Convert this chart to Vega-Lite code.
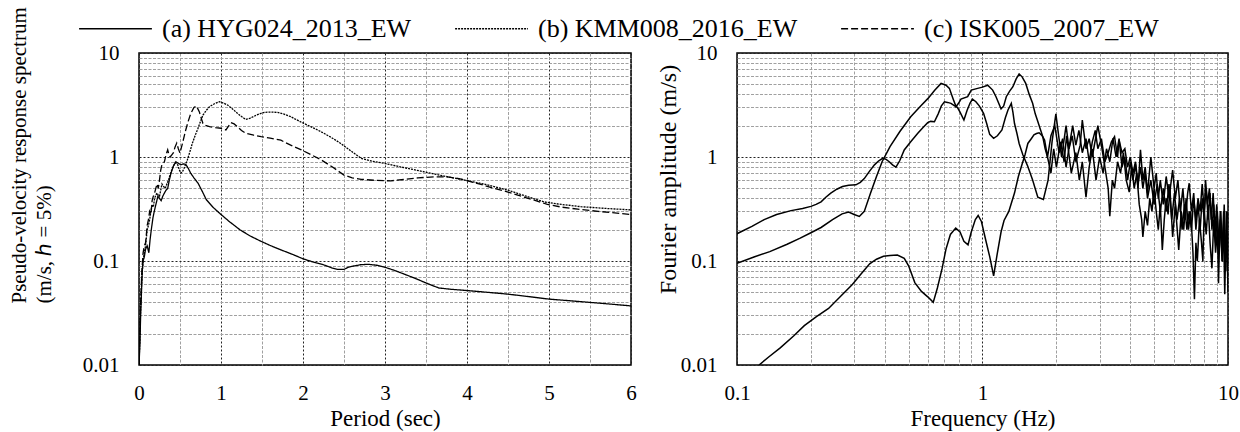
{
  "$schema": "https://vega.github.io/schema/vega-lite/v6.json",
  "background": "white",
  "autosize": {"type": "pad"},
  "padding": {"left": 7, "top": -9, "right": 5, "bottom": 10},
  "spacing": 106,
  "bounds": "flush",
  "config": {
    "font": "Liberation Serif",
    "view": {"stroke": "black", "strokeWidth": 1.5},
    "axis": {
      "domain": false,
      "ticks": false,
      "labelFont": "Liberation Serif",
      "labelFontSize": 21,
      "labelColor": "black",
      "labelOverlap": false,
      "labelFlush": false,
      "titleFont": "Liberation Serif",
      "titleFontSize": 24,
      "titleFontWeight": "normal",
      "titleColor": "black"
    },
    "legend": {
      "labelFont": "Liberation Serif",
      "labelFontSize": 26,
      "labelColor": "black",
      "padding": 0
    }
  },
  "datasets": {
    "psv": [
      {"s": "(a) HYG024_2013_EW", "T": 0, "v": 0.01}, {"s": "(a) HYG024_2013_EW", "T": 0.01, "v": 0.015}, {"s": "(a) HYG024_2013_EW", "T": 0.02, "v": 0.03}, {"s": "(a) HYG024_2013_EW", "T": 0.03, "v": 0.05}, {"s": "(a) HYG024_2013_EW", "T": 0.04, "v": 0.08}, {"s": "(a) HYG024_2013_EW", "T": 0.05, "v": 0.1}, {"s": "(a) HYG024_2013_EW", "T": 0.065, "v": 0.11}, {"s": "(a) HYG024_2013_EW", "T": 0.08, "v": 0.13}, {"s": "(a) HYG024_2013_EW", "T": 0.1, "v": 0.14}, {"s": "(a) HYG024_2013_EW", "T": 0.12, "v": 0.12}, {"s": "(a) HYG024_2013_EW", "T": 0.135, "v": 0.16}, {"s": "(a) HYG024_2013_EW", "T": 0.15, "v": 0.2}, {"s": "(a) HYG024_2013_EW", "T": 0.17, "v": 0.26}, {"s": "(a) HYG024_2013_EW", "T": 0.19, "v": 0.31}, {"s": "(a) HYG024_2013_EW", "T": 0.21, "v": 0.36}, {"s": "(a) HYG024_2013_EW", "T": 0.23, "v": 0.42}, {"s": "(a) HYG024_2013_EW", "T": 0.25, "v": 0.4}, {"s": "(a) HYG024_2013_EW", "T": 0.27, "v": 0.38}, {"s": "(a) HYG024_2013_EW", "T": 0.29, "v": 0.42}, {"s": "(a) HYG024_2013_EW", "T": 0.31, "v": 0.45}, {"s": "(a) HYG024_2013_EW", "T": 0.33, "v": 0.48}, {"s": "(a) HYG024_2013_EW", "T": 0.35, "v": 0.5}, {"s": "(a) HYG024_2013_EW", "T": 0.37, "v": 0.6}, {"s": "(a) HYG024_2013_EW", "T": 0.39, "v": 0.7}, {"s": "(a) HYG024_2013_EW", "T": 0.42, "v": 0.82}, {"s": "(a) HYG024_2013_EW", "T": 0.45, "v": 0.9}, {"s": "(a) HYG024_2013_EW", "T": 0.48, "v": 0.87}, {"s": "(a) HYG024_2013_EW", "T": 0.51, "v": 0.84}, {"s": "(a) HYG024_2013_EW", "T": 0.54, "v": 0.86}, {"s": "(a) HYG024_2013_EW", "T": 0.57, "v": 0.85}, {"s": "(a) HYG024_2013_EW", "T": 0.6, "v": 0.78}, {"s": "(a) HYG024_2013_EW", "T": 0.63, "v": 0.7}, {"s": "(a) HYG024_2013_EW", "T": 0.67, "v": 0.63}, {"s": "(a) HYG024_2013_EW", "T": 0.72, "v": 0.56}, {"s": "(a) HYG024_2013_EW", "T": 0.77, "v": 0.47}, {"s": "(a) HYG024_2013_EW", "T": 0.82, "v": 0.39}, {"s": "(a) HYG024_2013_EW", "T": 0.9, "v": 0.33}, {"s": "(a) HYG024_2013_EW", "T": 1.0, "v": 0.28}, {"s": "(a) HYG024_2013_EW", "T": 1.1, "v": 0.24}, {"s": "(a) HYG024_2013_EW", "T": 1.23, "v": 0.2}, {"s": "(a) HYG024_2013_EW", "T": 1.35, "v": 0.175}, {"s": "(a) HYG024_2013_EW", "T": 1.47, "v": 0.157}, {"s": "(a) HYG024_2013_EW", "T": 1.6, "v": 0.141}, {"s": "(a) HYG024_2013_EW", "T": 1.73, "v": 0.128}, {"s": "(a) HYG024_2013_EW", "T": 1.87, "v": 0.116}, {"s": "(a) HYG024_2013_EW", "T": 2.0, "v": 0.105}, {"s": "(a) HYG024_2013_EW", "T": 2.12, "v": 0.098}, {"s": "(a) HYG024_2013_EW", "T": 2.25, "v": 0.092}, {"s": "(a) HYG024_2013_EW", "T": 2.35, "v": 0.086}, {"s": "(a) HYG024_2013_EW", "T": 2.42, "v": 0.083}, {"s": "(a) HYG024_2013_EW", "T": 2.5, "v": 0.083}, {"s": "(a) HYG024_2013_EW", "T": 2.55, "v": 0.087}, {"s": "(a) HYG024_2013_EW", "T": 2.6, "v": 0.089}, {"s": "(a) HYG024_2013_EW", "T": 2.7, "v": 0.092}, {"s": "(a) HYG024_2013_EW", "T": 2.79, "v": 0.093}, {"s": "(a) HYG024_2013_EW", "T": 2.9, "v": 0.091}, {"s": "(a) HYG024_2013_EW", "T": 3.0, "v": 0.087}, {"s": "(a) HYG024_2013_EW", "T": 3.12, "v": 0.081}, {"s": "(a) HYG024_2013_EW", "T": 3.25, "v": 0.074}, {"s": "(a) HYG024_2013_EW", "T": 3.37, "v": 0.068}, {"s": "(a) HYG024_2013_EW", "T": 3.49, "v": 0.062}, {"s": "(a) HYG024_2013_EW", "T": 3.58, "v": 0.058}, {"s": "(a) HYG024_2013_EW", "T": 3.66, "v": 0.055}, {"s": "(a) HYG024_2013_EW", "T": 3.8, "v": 0.0535}, {"s": "(a) HYG024_2013_EW", "T": 4.0, "v": 0.052}, {"s": "(a) HYG024_2013_EW", "T": 4.25, "v": 0.05}, {"s": "(a) HYG024_2013_EW", "T": 4.5, "v": 0.048}, {"s": "(a) HYG024_2013_EW", "T": 4.75, "v": 0.0455}, {"s": "(a) HYG024_2013_EW", "T": 5.0, "v": 0.043}, {"s": "(a) HYG024_2013_EW", "T": 5.25, "v": 0.0415}, {"s": "(a) HYG024_2013_EW", "T": 5.5, "v": 0.04}, {"s": "(a) HYG024_2013_EW", "T": 5.75, "v": 0.0385}, {"s": "(a) HYG024_2013_EW", "T": 6.0, "v": 0.037},
      {"s": "(b) KMM008_2016_EW", "T": 0, "v": 0.01}, {"s": "(b) KMM008_2016_EW", "T": 0.01, "v": 0.018}, {"s": "(b) KMM008_2016_EW", "T": 0.02, "v": 0.035}, {"s": "(b) KMM008_2016_EW", "T": 0.035, "v": 0.07}, {"s": "(b) KMM008_2016_EW", "T": 0.05, "v": 0.1}, {"s": "(b) KMM008_2016_EW", "T": 0.065, "v": 0.12}, {"s": "(b) KMM008_2016_EW", "T": 0.08, "v": 0.14}, {"s": "(b) KMM008_2016_EW", "T": 0.1, "v": 0.2}, {"s": "(b) KMM008_2016_EW", "T": 0.115, "v": 0.22}, {"s": "(b) KMM008_2016_EW", "T": 0.13, "v": 0.25}, {"s": "(b) KMM008_2016_EW", "T": 0.145, "v": 0.3}, {"s": "(b) KMM008_2016_EW", "T": 0.16, "v": 0.35}, {"s": "(b) KMM008_2016_EW", "T": 0.175, "v": 0.33}, {"s": "(b) KMM008_2016_EW", "T": 0.19, "v": 0.4}, {"s": "(b) KMM008_2016_EW", "T": 0.205, "v": 0.43}, {"s": "(b) KMM008_2016_EW", "T": 0.22, "v": 0.45}, {"s": "(b) KMM008_2016_EW", "T": 0.235, "v": 0.43}, {"s": "(b) KMM008_2016_EW", "T": 0.25, "v": 0.42}, {"s": "(b) KMM008_2016_EW", "T": 0.265, "v": 0.48}, {"s": "(b) KMM008_2016_EW", "T": 0.28, "v": 0.55}, {"s": "(b) KMM008_2016_EW", "T": 0.3, "v": 0.52}, {"s": "(b) KMM008_2016_EW", "T": 0.32, "v": 0.5}, {"s": "(b) KMM008_2016_EW", "T": 0.34, "v": 0.55}, {"s": "(b) KMM008_2016_EW", "T": 0.36, "v": 0.6}, {"s": "(b) KMM008_2016_EW", "T": 0.38, "v": 0.68}, {"s": "(b) KMM008_2016_EW", "T": 0.4, "v": 0.75}, {"s": "(b) KMM008_2016_EW", "T": 0.42, "v": 0.82}, {"s": "(b) KMM008_2016_EW", "T": 0.44, "v": 0.88}, {"s": "(b) KMM008_2016_EW", "T": 0.47, "v": 0.85}, {"s": "(b) KMM008_2016_EW", "T": 0.49, "v": 0.76}, {"s": "(b) KMM008_2016_EW", "T": 0.51, "v": 0.7}, {"s": "(b) KMM008_2016_EW", "T": 0.53, "v": 0.72}, {"s": "(b) KMM008_2016_EW", "T": 0.55, "v": 0.78}, {"s": "(b) KMM008_2016_EW", "T": 0.59, "v": 0.94}, {"s": "(b) KMM008_2016_EW", "T": 0.62, "v": 1.12}, {"s": "(b) KMM008_2016_EW", "T": 0.65, "v": 1.35}, {"s": "(b) KMM008_2016_EW", "T": 0.69, "v": 1.65}, {"s": "(b) KMM008_2016_EW", "T": 0.72, "v": 1.89}, {"s": "(b) KMM008_2016_EW", "T": 0.75, "v": 2.2}, {"s": "(b) KMM008_2016_EW", "T": 0.78, "v": 2.53}, {"s": "(b) KMM008_2016_EW", "T": 0.82, "v": 2.8}, {"s": "(b) KMM008_2016_EW", "T": 0.86, "v": 3.05}, {"s": "(b) KMM008_2016_EW", "T": 0.92, "v": 3.25}, {"s": "(b) KMM008_2016_EW", "T": 0.98, "v": 3.4}, {"s": "(b) KMM008_2016_EW", "T": 1.03, "v": 3.3}, {"s": "(b) KMM008_2016_EW", "T": 1.08, "v": 3.16}, {"s": "(b) KMM008_2016_EW", "T": 1.14, "v": 2.9}, {"s": "(b) KMM008_2016_EW", "T": 1.2, "v": 2.63}, {"s": "(b) KMM008_2016_EW", "T": 1.25, "v": 2.45}, {"s": "(b) KMM008_2016_EW", "T": 1.3, "v": 2.3}, {"s": "(b) KMM008_2016_EW", "T": 1.35, "v": 2.35}, {"s": "(b) KMM008_2016_EW", "T": 1.41, "v": 2.48}, {"s": "(b) KMM008_2016_EW", "T": 1.47, "v": 2.6}, {"s": "(b) KMM008_2016_EW", "T": 1.53, "v": 2.69}, {"s": "(b) KMM008_2016_EW", "T": 1.6, "v": 2.7}, {"s": "(b) KMM008_2016_EW", "T": 1.69, "v": 2.69}, {"s": "(b) KMM008_2016_EW", "T": 1.77, "v": 2.58}, {"s": "(b) KMM008_2016_EW", "T": 1.85, "v": 2.44}, {"s": "(b) KMM008_2016_EW", "T": 1.98, "v": 2.16}, {"s": "(b) KMM008_2016_EW", "T": 2.1, "v": 1.95}, {"s": "(b) KMM008_2016_EW", "T": 2.22, "v": 1.75}, {"s": "(b) KMM008_2016_EW", "T": 2.34, "v": 1.55}, {"s": "(b) KMM008_2016_EW", "T": 2.46, "v": 1.35}, {"s": "(b) KMM008_2016_EW", "T": 2.58, "v": 1.15}, {"s": "(b) KMM008_2016_EW", "T": 2.71, "v": 0.97}, {"s": "(b) KMM008_2016_EW", "T": 2.85, "v": 0.91}, {"s": "(b) KMM008_2016_EW", "T": 2.99, "v": 0.87}, {"s": "(b) KMM008_2016_EW", "T": 3.2, "v": 0.8}, {"s": "(b) KMM008_2016_EW", "T": 3.48, "v": 0.72}, {"s": "(b) KMM008_2016_EW", "T": 3.7, "v": 0.66}, {"s": "(b) KMM008_2016_EW", "T": 3.97, "v": 0.6}, {"s": "(b) KMM008_2016_EW", "T": 4.25, "v": 0.54}, {"s": "(b) KMM008_2016_EW", "T": 4.5, "v": 0.48}, {"s": "(b) KMM008_2016_EW", "T": 4.72, "v": 0.42}, {"s": "(b) KMM008_2016_EW", "T": 4.94, "v": 0.37}, {"s": "(b) KMM008_2016_EW", "T": 5.15, "v": 0.35}, {"s": "(b) KMM008_2016_EW", "T": 5.39, "v": 0.333}, {"s": "(b) KMM008_2016_EW", "T": 5.7, "v": 0.32}, {"s": "(b) KMM008_2016_EW", "T": 6.0, "v": 0.31},
      {"s": "(c) ISK005_2007_EW", "T": 0, "v": 0.01}, {"s": "(c) ISK005_2007_EW", "T": 0.01, "v": 0.02}, {"s": "(c) ISK005_2007_EW", "T": 0.02, "v": 0.04}, {"s": "(c) ISK005_2007_EW", "T": 0.035, "v": 0.08}, {"s": "(c) ISK005_2007_EW", "T": 0.05, "v": 0.12}, {"s": "(c) ISK005_2007_EW", "T": 0.065, "v": 0.14}, {"s": "(c) ISK005_2007_EW", "T": 0.08, "v": 0.15}, {"s": "(c) ISK005_2007_EW", "T": 0.1, "v": 0.22}, {"s": "(c) ISK005_2007_EW", "T": 0.115, "v": 0.25}, {"s": "(c) ISK005_2007_EW", "T": 0.13, "v": 0.3}, {"s": "(c) ISK005_2007_EW", "T": 0.145, "v": 0.28}, {"s": "(c) ISK005_2007_EW", "T": 0.16, "v": 0.38}, {"s": "(c) ISK005_2007_EW", "T": 0.175, "v": 0.42}, {"s": "(c) ISK005_2007_EW", "T": 0.19, "v": 0.45}, {"s": "(c) ISK005_2007_EW", "T": 0.205, "v": 0.5}, {"s": "(c) ISK005_2007_EW", "T": 0.22, "v": 0.55}, {"s": "(c) ISK005_2007_EW", "T": 0.235, "v": 0.5}, {"s": "(c) ISK005_2007_EW", "T": 0.25, "v": 0.6}, {"s": "(c) ISK005_2007_EW", "T": 0.265, "v": 0.75}, {"s": "(c) ISK005_2007_EW", "T": 0.28, "v": 0.85}, {"s": "(c) ISK005_2007_EW", "T": 0.295, "v": 0.87}, {"s": "(c) ISK005_2007_EW", "T": 0.31, "v": 0.9}, {"s": "(c) ISK005_2007_EW", "T": 0.33, "v": 1.05}, {"s": "(c) ISK005_2007_EW", "T": 0.35, "v": 1.17}, {"s": "(c) ISK005_2007_EW", "T": 0.365, "v": 1.05}, {"s": "(c) ISK005_2007_EW", "T": 0.38, "v": 1.0}, {"s": "(c) ISK005_2007_EW", "T": 0.4, "v": 1.05}, {"s": "(c) ISK005_2007_EW", "T": 0.42, "v": 1.1}, {"s": "(c) ISK005_2007_EW", "T": 0.44, "v": 1.25}, {"s": "(c) ISK005_2007_EW", "T": 0.46, "v": 1.36}, {"s": "(c) ISK005_2007_EW", "T": 0.48, "v": 1.2}, {"s": "(c) ISK005_2007_EW", "T": 0.5, "v": 1.09}, {"s": "(c) ISK005_2007_EW", "T": 0.53, "v": 1.35}, {"s": "(c) ISK005_2007_EW", "T": 0.57, "v": 1.82}, {"s": "(c) ISK005_2007_EW", "T": 0.6, "v": 2.2}, {"s": "(c) ISK005_2007_EW", "T": 0.63, "v": 2.6}, {"s": "(c) ISK005_2007_EW", "T": 0.67, "v": 3.0}, {"s": "(c) ISK005_2007_EW", "T": 0.7, "v": 3.1}, {"s": "(c) ISK005_2007_EW", "T": 0.735, "v": 2.73}, {"s": "(c) ISK005_2007_EW", "T": 0.76, "v": 2.35}, {"s": "(c) ISK005_2007_EW", "T": 0.78, "v": 2.1}, {"s": "(c) ISK005_2007_EW", "T": 0.82, "v": 2.0}, {"s": "(c) ISK005_2007_EW", "T": 0.86, "v": 1.96}, {"s": "(c) ISK005_2007_EW", "T": 0.93, "v": 1.92}, {"s": "(c) ISK005_2007_EW", "T": 1.0, "v": 1.89}, {"s": "(c) ISK005_2007_EW", "T": 1.06, "v": 1.82}, {"s": "(c) ISK005_2007_EW", "T": 1.12, "v": 2.14}, {"s": "(c) ISK005_2007_EW", "T": 1.16, "v": 2.08}, {"s": "(c) ISK005_2007_EW", "T": 1.2, "v": 1.96}, {"s": "(c) ISK005_2007_EW", "T": 1.25, "v": 1.8}, {"s": "(c) ISK005_2007_EW", "T": 1.3, "v": 1.69}, {"s": "(c) ISK005_2007_EW", "T": 1.4, "v": 1.62}, {"s": "(c) ISK005_2007_EW", "T": 1.49, "v": 1.57}, {"s": "(c) ISK005_2007_EW", "T": 1.6, "v": 1.52}, {"s": "(c) ISK005_2007_EW", "T": 1.73, "v": 1.45}, {"s": "(c) ISK005_2007_EW", "T": 1.85, "v": 1.3}, {"s": "(c) ISK005_2007_EW", "T": 1.98, "v": 1.17}, {"s": "(c) ISK005_2007_EW", "T": 2.1, "v": 1.05}, {"s": "(c) ISK005_2007_EW", "T": 2.22, "v": 0.94}, {"s": "(c) ISK005_2007_EW", "T": 2.36, "v": 0.8}, {"s": "(c) ISK005_2007_EW", "T": 2.5, "v": 0.67}, {"s": "(c) ISK005_2007_EW", "T": 2.6, "v": 0.63}, {"s": "(c) ISK005_2007_EW", "T": 2.71, "v": 0.61}, {"s": "(c) ISK005_2007_EW", "T": 2.9, "v": 0.595}, {"s": "(c) ISK005_2007_EW", "T": 3.07, "v": 0.59}, {"s": "(c) ISK005_2007_EW", "T": 3.25, "v": 0.61}, {"s": "(c) ISK005_2007_EW", "T": 3.4, "v": 0.63}, {"s": "(c) ISK005_2007_EW", "T": 3.6, "v": 0.645}, {"s": "(c) ISK005_2007_EW", "T": 3.76, "v": 0.645}, {"s": "(c) ISK005_2007_EW", "T": 3.9, "v": 0.62}, {"s": "(c) ISK005_2007_EW", "T": 4.01, "v": 0.59}, {"s": "(c) ISK005_2007_EW", "T": 4.17, "v": 0.545}, {"s": "(c) ISK005_2007_EW", "T": 4.33, "v": 0.5}, {"s": "(c) ISK005_2007_EW", "T": 4.5, "v": 0.46}, {"s": "(c) ISK005_2007_EW", "T": 4.66, "v": 0.42}, {"s": "(c) ISK005_2007_EW", "T": 4.82, "v": 0.385}, {"s": "(c) ISK005_2007_EW", "T": 4.98, "v": 0.35}, {"s": "(c) ISK005_2007_EW", "T": 5.15, "v": 0.33}, {"s": "(c) ISK005_2007_EW", "T": 5.35, "v": 0.315}, {"s": "(c) ISK005_2007_EW", "T": 5.6, "v": 0.3}, {"s": "(c) ISK005_2007_EW", "T": 5.8, "v": 0.29}, {"s": "(c) ISK005_2007_EW", "T": 6.0, "v": 0.28}
    ],
    "fas": [
      {"s": "b", "f": 0.1, "a": 0.183}, {"s": "b", "f": 0.115, "a": 0.215}, {"s": "b", "f": 0.129, "a": 0.25}, {"s": "b", "f": 0.145, "a": 0.28}, {"s": "b", "f": 0.166, "a": 0.305}, {"s": "b", "f": 0.185, "a": 0.32}, {"s": "b", "f": 0.2, "a": 0.335}, {"s": "b", "f": 0.21, "a": 0.35}, {"s": "b", "f": 0.22, "a": 0.37}, {"s": "b", "f": 0.23, "a": 0.41}, {"s": "b", "f": 0.241, "a": 0.45}, {"s": "b", "f": 0.255, "a": 0.49}, {"s": "b", "f": 0.269, "a": 0.52}, {"s": "b", "f": 0.285, "a": 0.535}, {"s": "b", "f": 0.305, "a": 0.54}, {"s": "b", "f": 0.318, "a": 0.57}, {"s": "b", "f": 0.33, "a": 0.62}, {"s": "b", "f": 0.345, "a": 0.72}, {"s": "b", "f": 0.363, "a": 0.84}, {"s": "b", "f": 0.378, "a": 0.92}, {"s": "b", "f": 0.392, "a": 0.97}, {"s": "b", "f": 0.405, "a": 0.95}, {"s": "b", "f": 0.417, "a": 0.9}, {"s": "b", "f": 0.43, "a": 0.84}, {"s": "b", "f": 0.444, "a": 0.8}, {"s": "b", "f": 0.46, "a": 0.92}, {"s": "b", "f": 0.48, "a": 1.17}, {"s": "b", "f": 0.51, "a": 1.4}, {"s": "b", "f": 0.545, "a": 1.69}, {"s": "b", "f": 0.57, "a": 1.9}, {"s": "b", "f": 0.598, "a": 2.14}, {"s": "b", "f": 0.615, "a": 2.2}, {"s": "b", "f": 0.637, "a": 2.18}, {"s": "b", "f": 0.66, "a": 2.6}, {"s": "b", "f": 0.68, "a": 3.1}, {"s": "b", "f": 0.7, "a": 3.4}, {"s": "b", "f": 0.72, "a": 3.35}, {"s": "b", "f": 0.744, "a": 3.28}, {"s": "b", "f": 0.77, "a": 3.1}, {"s": "b", "f": 0.79, "a": 3.0}, {"s": "b", "f": 0.81, "a": 2.7}, {"s": "b", "f": 0.84, "a": 2.27}, {"s": "b", "f": 0.865, "a": 2.8}, {"s": "b", "f": 0.89, "a": 3.3}, {"s": "b", "f": 0.91, "a": 3.6}, {"s": "b", "f": 0.94, "a": 3.4}, {"s": "b", "f": 0.97, "a": 3.1}, {"s": "b", "f": 1.01, "a": 2.63}, {"s": "b", "f": 1.04, "a": 2.1}, {"s": "b", "f": 1.07, "a": 1.65}, {"s": "b", "f": 1.11, "a": 1.51}, {"s": "b", "f": 1.15, "a": 1.6}, {"s": "b", "f": 1.2, "a": 1.82}, {"s": "b", "f": 1.24, "a": 2.4}, {"s": "b", "f": 1.27, "a": 2.83}, {"s": "b", "f": 1.31, "a": 3.28}, {"s": "b", "f": 1.33, "a": 2.7}, {"s": "b", "f": 1.35, "a": 2.1}, {"s": "b", "f": 1.38, "a": 1.7}, {"s": "b", "f": 1.41, "a": 1.35}, {"s": "b", "f": 1.46, "a": 1.05}, {"s": "b", "f": 1.53, "a": 0.81}, {"s": "b", "f": 1.6, "a": 0.6}, {"s": "b", "f": 1.68, "a": 0.41}, {"s": "b", "f": 1.77, "a": 0.39}, {"s": "b", "f": 1.85, "a": 0.6}, {"s": "b", "f": 1.92, "a": 1.4}, {"s": "b", "f": 1.99, "a": 2.6}, {"s": "b", "f": 2.05, "a": 1.5}, {"s": "b", "f": 2.1, "a": 1.0}, {"s": "b", "f": 2.19, "a": 2.0}, {"s": "b", "f": 2.25, "a": 1.2}, {"s": "b", "f": 2.32, "a": 1.6}, {"s": "b", "f": 2.4, "a": 0.9}, {"s": "b", "f": 2.5, "a": 1.3}, {"s": "b", "f": 2.55, "a": 2.27}, {"s": "b", "f": 2.64, "a": 1.2}, {"s": "b", "f": 2.72, "a": 1.5}, {"s": "b", "f": 2.8, "a": 1.0}, {"s": "b", "f": 2.95, "a": 2.0}, {"s": "b", "f": 3.05, "a": 1.3}, {"s": "b", "f": 3.15, "a": 0.81}, {"s": "b", "f": 3.25, "a": 0.5}, {"s": "b", "f": 3.3, "a": 0.27}, {"s": "b", "f": 3.38, "a": 0.6}, {"s": "b", "f": 3.45, "a": 0.5}, {"s": "b", "f": 3.55, "a": 0.9}, {"s": "b", "f": 3.65, "a": 0.7}, {"s": "b", "f": 3.75, "a": 1.1}, {"s": "b", "f": 3.85, "a": 0.6}, {"s": "b", "f": 3.96, "a": 0.46}, {"s": "b", "f": 4.05, "a": 0.8}, {"s": "b", "f": 4.15, "a": 0.5}, {"s": "b", "f": 4.25, "a": 0.7}, {"s": "b", "f": 4.35, "a": 0.35}, {"s": "b", "f": 4.45, "a": 0.25}, {"s": "b", "f": 4.5, "a": 0.17}, {"s": "b", "f": 4.6, "a": 0.3}, {"s": "b", "f": 4.7, "a": 0.22}, {"s": "b", "f": 4.8, "a": 0.4}, {"s": "b", "f": 4.9, "a": 0.3}, {"s": "b", "f": 5.0, "a": 0.5}, {"s": "b", "f": 5.1, "a": 0.3}, {"s": "b", "f": 5.2, "a": 0.2}, {"s": "b", "f": 5.3, "a": 0.35}, {"s": "b", "f": 5.4, "a": 0.128}, {"s": "b", "f": 5.5, "a": 0.25}, {"s": "b", "f": 5.6, "a": 0.4}, {"s": "b", "f": 5.7, "a": 0.28}, {"s": "b", "f": 5.8, "a": 0.5}, {"s": "b", "f": 5.95, "a": 0.17}, {"s": "b", "f": 6.1, "a": 0.35}, {"s": "b", "f": 6.3, "a": 0.128}, {"s": "b", "f": 6.45, "a": 0.3}, {"s": "b", "f": 6.6, "a": 0.2}, {"s": "b", "f": 6.75, "a": 0.4}, {"s": "b", "f": 6.9, "a": 0.2}, {"s": "b", "f": 7.05, "a": 0.3}, {"s": "b", "f": 7.2, "a": 0.12}, {"s": "b", "f": 7.3, "a": 0.043}, {"s": "b", "f": 7.4, "a": 0.15}, {"s": "b", "f": 7.5, "a": 0.1}, {"s": "b", "f": 7.65, "a": 0.25}, {"s": "b", "f": 7.8, "a": 0.15}, {"s": "b", "f": 7.9, "a": 0.1}, {"s": "b", "f": 8.0, "a": 0.3}, {"s": "b", "f": 8.15, "a": 0.18}, {"s": "b", "f": 8.3, "a": 0.35}, {"s": "b", "f": 8.45, "a": 0.15}, {"s": "b", "f": 8.6, "a": 0.085}, {"s": "b", "f": 8.75, "a": 0.25}, {"s": "b", "f": 8.9, "a": 0.12}, {"s": "b", "f": 9.05, "a": 0.2}, {"s": "b", "f": 9.15, "a": 0.061}, {"s": "b", "f": 9.3, "a": 0.3}, {"s": "b", "f": 9.45, "a": 0.1}, {"s": "b", "f": 9.6, "a": 0.2}, {"s": "b", "f": 9.7, "a": 0.048}, {"s": "b", "f": 9.85, "a": 0.3}, {"s": "b", "f": 10, "a": 0.1},
      {"s": "c", "f": 0.1, "a": 0.095}, {"s": "c", "f": 0.118, "a": 0.11}, {"s": "c", "f": 0.136, "a": 0.123}, {"s": "c", "f": 0.16, "a": 0.145}, {"s": "c", "f": 0.18, "a": 0.165}, {"s": "c", "f": 0.2, "a": 0.187}, {"s": "c", "f": 0.22, "a": 0.21}, {"s": "c", "f": 0.245, "a": 0.25}, {"s": "c", "f": 0.268, "a": 0.284}, {"s": "c", "f": 0.285, "a": 0.295}, {"s": "c", "f": 0.3, "a": 0.28}, {"s": "c", "f": 0.315, "a": 0.268}, {"s": "c", "f": 0.33, "a": 0.3}, {"s": "c", "f": 0.35, "a": 0.45}, {"s": "c", "f": 0.37, "a": 0.65}, {"s": "c", "f": 0.39, "a": 0.9}, {"s": "c", "f": 0.42, "a": 1.26}, {"s": "c", "f": 0.46, "a": 1.75}, {"s": "c", "f": 0.51, "a": 2.44}, {"s": "c", "f": 0.56, "a": 3.1}, {"s": "c", "f": 0.6, "a": 3.66}, {"s": "c", "f": 0.64, "a": 4.4}, {"s": "c", "f": 0.678, "a": 5.1}, {"s": "c", "f": 0.71, "a": 4.9}, {"s": "c", "f": 0.733, "a": 4.57}, {"s": "c", "f": 0.76, "a": 3.6}, {"s": "c", "f": 0.78, "a": 3.05}, {"s": "c", "f": 0.8, "a": 3.3}, {"s": "c", "f": 0.817, "a": 3.6}, {"s": "c", "f": 0.87, "a": 3.8}, {"s": "c", "f": 0.9, "a": 4.4}, {"s": "c", "f": 0.955, "a": 4.57}, {"s": "c", "f": 1.0, "a": 4.7}, {"s": "c", "f": 1.05, "a": 4.9}, {"s": "c", "f": 1.1, "a": 4.4}, {"s": "c", "f": 1.135, "a": 3.8}, {"s": "c", "f": 1.19, "a": 2.9}, {"s": "c", "f": 1.22, "a": 3.1}, {"s": "c", "f": 1.25, "a": 3.8}, {"s": "c", "f": 1.29, "a": 4.3}, {"s": "c", "f": 1.33, "a": 4.74}, {"s": "c", "f": 1.37, "a": 5.6}, {"s": "c", "f": 1.41, "a": 6.3}, {"s": "c", "f": 1.45, "a": 5.9}, {"s": "c", "f": 1.5, "a": 5.1}, {"s": "c", "f": 1.55, "a": 4.0}, {"s": "c", "f": 1.6, "a": 3.28}, {"s": "c", "f": 1.64, "a": 2.6}, {"s": "c", "f": 1.68, "a": 2.19}, {"s": "c", "f": 1.72, "a": 1.85}, {"s": "c", "f": 1.76, "a": 1.57}, {"s": "c", "f": 1.8, "a": 1.2}, {"s": "c", "f": 1.84, "a": 1.0}, {"s": "c", "f": 1.9, "a": 0.7}, {"s": "c", "f": 1.95, "a": 1.2}, {"s": "c", "f": 2.0, "a": 0.8}, {"s": "c", "f": 2.08, "a": 1.4}, {"s": "c", "f": 2.15, "a": 0.9}, {"s": "c", "f": 2.2, "a": 1.6}, {"s": "c", "f": 2.3, "a": 0.7}, {"s": "c", "f": 2.4, "a": 1.1}, {"s": "c", "f": 2.48, "a": 0.6}, {"s": "c", "f": 2.55, "a": 0.9}, {"s": "c", "f": 2.64, "a": 0.41}, {"s": "c", "f": 2.72, "a": 0.8}, {"s": "c", "f": 2.8, "a": 1.2}, {"s": "c", "f": 2.9, "a": 0.6}, {"s": "c", "f": 3.0, "a": 1.0}, {"s": "c", "f": 3.1, "a": 0.7}, {"s": "c", "f": 3.2, "a": 1.2}, {"s": "c", "f": 3.3, "a": 0.9}, {"s": "c", "f": 3.4, "a": 1.51}, {"s": "c", "f": 3.5, "a": 1.0}, {"s": "c", "f": 3.6, "a": 1.5}, {"s": "c", "f": 3.7, "a": 0.8}, {"s": "c", "f": 3.8, "a": 1.0}, {"s": "c", "f": 3.9, "a": 0.6}, {"s": "c", "f": 4.0, "a": 0.9}, {"s": "c", "f": 4.1, "a": 0.6}, {"s": "c", "f": 4.2, "a": 0.85}, {"s": "c", "f": 4.3, "a": 0.5}, {"s": "c", "f": 4.4, "a": 1.17}, {"s": "c", "f": 4.5, "a": 0.6}, {"s": "c", "f": 4.6, "a": 0.8}, {"s": "c", "f": 4.7, "a": 0.45}, {"s": "c", "f": 4.85, "a": 1.0}, {"s": "c", "f": 5.0, "a": 0.5}, {"s": "c", "f": 5.1, "a": 0.7}, {"s": "c", "f": 5.2, "a": 0.4}, {"s": "c", "f": 5.3, "a": 0.6}, {"s": "c", "f": 5.45, "a": 0.35}, {"s": "c", "f": 5.6, "a": 0.65}, {"s": "c", "f": 5.75, "a": 0.4}, {"s": "c", "f": 5.95, "a": 0.75}, {"s": "c", "f": 6.1, "a": 0.4}, {"s": "c", "f": 6.25, "a": 0.6}, {"s": "c", "f": 6.4, "a": 0.3}, {"s": "c", "f": 6.55, "a": 0.5}, {"s": "c", "f": 6.7, "a": 0.25}, {"s": "c", "f": 6.85, "a": 0.45}, {"s": "c", "f": 6.95, "a": 0.56}, {"s": "c", "f": 7.1, "a": 0.3}, {"s": "c", "f": 7.25, "a": 0.45}, {"s": "c", "f": 7.4, "a": 0.2}, {"s": "c", "f": 7.55, "a": 0.35}, {"s": "c", "f": 7.7, "a": 0.2}, {"s": "c", "f": 7.85, "a": 0.4}, {"s": "c", "f": 8.0, "a": 0.25}, {"s": "c", "f": 8.1, "a": 0.6}, {"s": "c", "f": 8.25, "a": 0.35}, {"s": "c", "f": 8.4, "a": 0.5}, {"s": "c", "f": 8.55, "a": 0.25}, {"s": "c", "f": 8.7, "a": 0.45}, {"s": "c", "f": 8.85, "a": 0.2}, {"s": "c", "f": 9.0, "a": 0.35}, {"s": "c", "f": 9.15, "a": 0.15}, {"s": "c", "f": 9.3, "a": 0.25}, {"s": "c", "f": 9.45, "a": 0.12}, {"s": "c", "f": 9.6, "a": 0.3}, {"s": "c", "f": 9.75, "a": 0.1}, {"s": "c", "f": 9.9, "a": 0.15}, {"s": "c", "f": 10, "a": 0.05},
      {"s": "a", "f": 0.123, "a": 0.01}, {"s": "a", "f": 0.135, "a": 0.012}, {"s": "a", "f": 0.15, "a": 0.0146}, {"s": "a", "f": 0.17, "a": 0.019}, {"s": "a", "f": 0.188, "a": 0.0239}, {"s": "a", "f": 0.21, "a": 0.029}, {"s": "a", "f": 0.236, "a": 0.035}, {"s": "a", "f": 0.265, "a": 0.046}, {"s": "a", "f": 0.295, "a": 0.0595}, {"s": "a", "f": 0.32, "a": 0.075}, {"s": "a", "f": 0.347, "a": 0.094}, {"s": "a", "f": 0.37, "a": 0.104}, {"s": "a", "f": 0.395, "a": 0.111}, {"s": "a", "f": 0.42, "a": 0.113}, {"s": "a", "f": 0.45, "a": 0.114}, {"s": "a", "f": 0.48, "a": 0.106}, {"s": "a", "f": 0.5, "a": 0.09}, {"s": "a", "f": 0.53, "a": 0.062}, {"s": "a", "f": 0.564, "a": 0.051}, {"s": "a", "f": 0.6, "a": 0.045}, {"s": "a", "f": 0.63, "a": 0.04}, {"s": "a", "f": 0.655, "a": 0.055}, {"s": "a", "f": 0.684, "a": 0.084}, {"s": "a", "f": 0.71, "a": 0.13}, {"s": "a", "f": 0.74, "a": 0.18}, {"s": "a", "f": 0.778, "a": 0.207}, {"s": "a", "f": 0.81, "a": 0.19}, {"s": "a", "f": 0.84, "a": 0.155}, {"s": "a", "f": 0.873, "a": 0.143}, {"s": "a", "f": 0.9, "a": 0.19}, {"s": "a", "f": 0.935, "a": 0.25}, {"s": "a", "f": 0.96, "a": 0.274}, {"s": "a", "f": 0.99, "a": 0.24}, {"s": "a", "f": 1.03, "a": 0.16}, {"s": "a", "f": 1.07, "a": 0.11}, {"s": "a", "f": 1.11, "a": 0.072}, {"s": "a", "f": 1.15, "a": 0.12}, {"s": "a", "f": 1.19, "a": 0.19}, {"s": "a", "f": 1.224, "a": 0.245}, {"s": "a", "f": 1.28, "a": 0.3}, {"s": "a", "f": 1.35, "a": 0.45}, {"s": "a", "f": 1.4, "a": 0.65}, {"s": "a", "f": 1.44, "a": 0.81}, {"s": "a", "f": 1.49, "a": 1.05}, {"s": "a", "f": 1.53, "a": 1.35}, {"s": "a", "f": 1.58, "a": 1.5}, {"s": "a", "f": 1.62, "a": 1.63}, {"s": "a", "f": 1.66, "a": 1.68}, {"s": "a", "f": 1.7, "a": 1.71}, {"s": "a", "f": 1.75, "a": 1.6}, {"s": "a", "f": 1.79, "a": 1.46}, {"s": "a", "f": 1.84, "a": 1.0}, {"s": "a", "f": 1.9, "a": 1.6}, {"s": "a", "f": 1.97, "a": 2.0}, {"s": "a", "f": 2.05, "a": 1.1}, {"s": "a", "f": 2.12, "a": 1.5}, {"s": "a", "f": 2.19, "a": 0.8}, {"s": "a", "f": 2.26, "a": 1.3}, {"s": "a", "f": 2.33, "a": 2.0}, {"s": "a", "f": 2.4, "a": 1.3}, {"s": "a", "f": 2.47, "a": 1.8}, {"s": "a", "f": 2.55, "a": 1.1}, {"s": "a", "f": 2.64, "a": 1.5}, {"s": "a", "f": 2.72, "a": 0.9}, {"s": "a", "f": 2.8, "a": 1.4}, {"s": "a", "f": 2.88, "a": 1.8}, {"s": "a", "f": 2.95, "a": 1.2}, {"s": "a", "f": 3.05, "a": 1.5}, {"s": "a", "f": 3.15, "a": 0.9}, {"s": "a", "f": 3.25, "a": 1.1}, {"s": "a", "f": 3.35, "a": 1.4}, {"s": "a", "f": 3.45, "a": 1.57}, {"s": "a", "f": 3.55, "a": 1.0}, {"s": "a", "f": 3.6, "a": 1.45}, {"s": "a", "f": 3.7, "a": 1.1}, {"s": "a", "f": 3.8, "a": 1.2}, {"s": "a", "f": 3.9, "a": 0.8}, {"s": "a", "f": 4.0, "a": 1.0}, {"s": "a", "f": 4.1, "a": 0.7}, {"s": "a", "f": 4.2, "a": 0.9}, {"s": "a", "f": 4.3, "a": 0.55}, {"s": "a", "f": 4.4, "a": 0.8}, {"s": "a", "f": 4.5, "a": 0.5}, {"s": "a", "f": 4.6, "a": 0.7}, {"s": "a", "f": 4.7, "a": 0.4}, {"s": "a", "f": 4.85, "a": 0.6}, {"s": "a", "f": 5.0, "a": 0.35}, {"s": "a", "f": 5.15, "a": 0.55}, {"s": "a", "f": 5.3, "a": 0.3}, {"s": "a", "f": 5.45, "a": 0.5}, {"s": "a", "f": 5.6, "a": 0.3}, {"s": "a", "f": 5.75, "a": 0.55}, {"s": "a", "f": 5.9, "a": 0.25}, {"s": "a", "f": 6.05, "a": 0.45}, {"s": "a", "f": 6.2, "a": 0.25}, {"s": "a", "f": 6.35, "a": 0.4}, {"s": "a", "f": 6.5, "a": 0.2}, {"s": "a", "f": 6.65, "a": 0.35}, {"s": "a", "f": 6.8, "a": 0.2}, {"s": "a", "f": 6.95, "a": 0.3}, {"s": "a", "f": 7.1, "a": 0.2}, {"s": "a", "f": 7.25, "a": 0.4}, {"s": "a", "f": 7.4, "a": 0.25}, {"s": "a", "f": 7.55, "a": 0.4}, {"s": "a", "f": 7.7, "a": 0.3}, {"s": "a", "f": 7.85, "a": 0.55}, {"s": "a", "f": 8.0, "a": 0.3}, {"s": "a", "f": 8.15, "a": 0.5}, {"s": "a", "f": 8.3, "a": 0.25}, {"s": "a", "f": 8.45, "a": 0.45}, {"s": "a", "f": 8.6, "a": 0.2}, {"s": "a", "f": 8.75, "a": 0.35}, {"s": "a", "f": 8.9, "a": 0.15}, {"s": "a", "f": 9.05, "a": 0.3}, {"s": "a", "f": 9.2, "a": 0.12}, {"s": "a", "f": 9.35, "a": 0.3}, {"s": "a", "f": 9.5, "a": 0.1}, {"s": "a", "f": 9.65, "a": 0.35}, {"s": "a", "f": 9.8, "a": 0.08}, {"s": "a", "f": 9.9, "a": 0.25}, {"s": "a", "f": 10, "a": 0.3}
    ]
  },
  "hconcat": [
    {
      "width": 492,
      "height": 312,
      "data": {"name": "psv"},
      "mark": {"type": "line", "color": "black", "strokeWidth": 1.3, "clip": true},
      "encoding": {
        "x": {
          "field": "T", "type": "quantitative",
          "scale": {"domain": [0, 6], "nice": false},
          "axis": {
            "title": "Period (sec)",
            "titleFontSize": 23,
            "values": [0, 0.5, 1, 1.5, 2, 2.5, 3, 3.5, 4, 4.5, 5, 5.5, 6],
            "labelExpr": "datum.value % 1 == 0 ? format(datum.value, 'd') : ''",
            "labelPadding": 17,
            "titlePadding": 4,
            "gridColor": {"condition": {"test": "datum.value % 1 == 0", "value": "#222222"}, "value": "#a0a0a0"},
            "gridDash": {"condition": {"test": "datum.value % 1 == 0", "value": [2, 2]}, "value": [3, 1.5]}
          }
        },
        "y": {
          "field": "v", "type": "quantitative",
          "scale": {"type": "log", "domain": [0.01, 10], "nice": false},
          "axis": {
            "title": ["Pseudo-velocity response spectrum", "(m/s, ℎ = 5%)"],
            "titleFontSize": 21,
            "titleLineHeight": 25,
            "titleAlign": "left",
            "titleY": 250,
            "values": [0.01, 0.02, 0.03, 0.04, 0.05, 0.06, 0.07, 0.08, 0.09, 0.1, 0.2, 0.3, 0.4, 0.5, 0.6, 0.7, 0.8, 0.9, 1, 2, 3, 4, 5, 6, 7, 8, 9, 10],
            "labelExpr": "datum.value == 10 ? '10' : datum.value == 1 ? '1' : datum.value == 0.1 ? '0.1' : datum.value == 0.01 ? '0.01' : ''",
            "labelPadding": 20,
            "titlePadding": 28,
            "gridColor": {"condition": {"test": "datum.value == 10 || datum.value == 1 || datum.value == 0.1 || datum.value == 0.01", "value": "#222222"}, "value": "#a0a0a0"},
            "gridDash": {"condition": {"test": "datum.value == 10 || datum.value == 1 || datum.value == 0.1 || datum.value == 0.01", "value": [2, 2]}, "value": [3, 1.5]}
          }
        },
        "strokeDash": {
          "field": "s", "type": "nominal",
          "scale": {"domain": ["(a) HYG024_2013_EW", "(b) KMM008_2016_EW", "(c) ISK005_2007_EW"], "range": [[1, 0], [2, 1], [7, 3]]},
          "legend": {
            "title": null,
            "orient": "none",
            "legendX": -61,
            "legendY": -62,
            "direction": "horizontal",
            "symbolType": "stroke",
            "symbolSize": 5300,
            "symbolStrokeWidth": 1.3,
            "symbolStrokeColor": "black",
            "labelOffset": 9,
            "columnPadding": 40,
            "labelLimit": 400
          }
        }
      }
    },
    {
      "width": 491,
      "height": 312,
      "data": {"name": "fas"},
      "mark": {"type": "line", "color": "black", "strokeWidth": 1.5, "clip": true},
      "encoding": {
        "x": {
          "field": "f", "type": "quantitative",
          "scale": {"type": "log", "domain": [0.1, 10], "nice": false},
          "axis": {
            "title": "Frequency (Hz)",
            "titleFontSize": 23,
            "values": [0.1, 0.2, 0.3, 0.4, 0.5, 0.6, 0.7, 0.8, 0.9, 1, 2, 3, 4, 5, 6, 7, 8, 9, 10],
            "labelExpr": "datum.value == 10 ? '10' : datum.value == 1 ? '1' : datum.value == 0.1 ? '0.1' : ''",
            "labelPadding": 17,
            "titlePadding": 4,
            "gridColor": {"condition": {"test": "datum.value == 10 || datum.value == 1 || datum.value == 0.1", "value": "#222222"}, "value": "#a0a0a0"},
            "gridDash": {"condition": {"test": "datum.value == 10 || datum.value == 1 || datum.value == 0.1", "value": [2, 2]}, "value": [3, 1.5]}
          }
        },
        "y": {
          "field": "a", "type": "quantitative",
          "scale": {"type": "log", "domain": [0.01, 10], "nice": false},
          "axis": {
            "title": "Fourier amplitude (m/s)",
            "titleY": 126,
            "values": [0.01, 0.02, 0.03, 0.04, 0.05, 0.06, 0.07, 0.08, 0.09, 0.1, 0.2, 0.3, 0.4, 0.5, 0.6, 0.7, 0.8, 0.9, 1, 2, 3, 4, 5, 6, 7, 8, 9, 10],
            "labelExpr": "datum.value == 10 ? '10' : datum.value == 1 ? '1' : datum.value == 0.1 ? '0.1' : datum.value == 0.01 ? '0.01' : ''",
            "labelPadding": 20,
            "titlePadding": 0,
            "gridColor": {"condition": {"test": "datum.value == 10 || datum.value == 1 || datum.value == 0.1 || datum.value == 0.01", "value": "#222222"}, "value": "#a0a0a0"},
            "gridDash": {"condition": {"test": "datum.value == 10 || datum.value == 1 || datum.value == 0.1 || datum.value == 0.01", "value": [2, 2]}, "value": [3, 1.5]}
          }
        },
        "detail": {"field": "s", "type": "nominal"}
      }
    }
  ]
}
